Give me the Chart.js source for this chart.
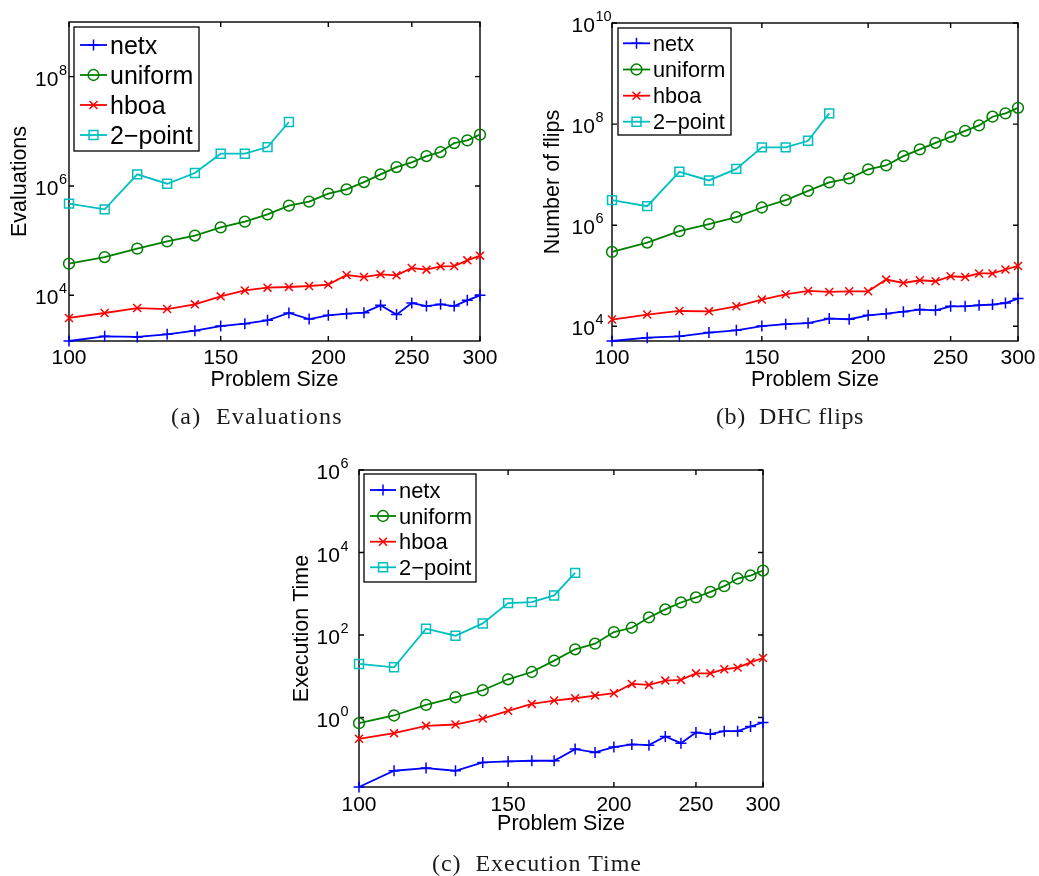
<!DOCTYPE html>
<html>
<head>
<meta charset="utf-8">
<script src="https://cdn.jsdelivr.net/npm/chart.js@4.4.1/dist/chart.umd.min.js"></script>
<style>
  html, body { margin: 0; padding: 0; background: #ffffff; }
  #figure { position: relative; width: 1039px; height: 876px; }
  #figure canvas { position: absolute; left: 0; top: 0; }
</style>
</head>
<body>
<div id="figure">
  <canvas id="evals" width="1039" height="876"></canvas>
  <canvas id="flips" width="1039" height="876"></canvas>
  <canvas id="time" width="1039" height="876"></canvas>
</div>
<script>
// ---- data -------------------------------------------------------------
const sizes = [100, 110, 120, 130, 140, 150, 160, 170, 180, 190, 200,
               210, 220, 230, 240, 250, 260, 270, 280, 290, 300];
const sizes2pt = [100, 110, 120, 130, 140, 150, 160, 170, 180];
const seriesNames = ['netx', 'uniform', 'hboa', '2\u2212point'];
const xTickValues = [100, 150, 200, 250, 300];

// (a) fitness evaluations
const evalNetx = [1460, 1780, 1730, 1930, 2260, 2740, 3030, 3490, 4750, 3680, 4310,
                  4620, 4820, 6560, 4440, 7230, 6370, 6840, 6370, 8090, 10000];
const evalUniform = [3.80e4, 5.01e4, 7.14e4, 9.70e4, 1.24e5, 1.75e5, 2.23e5, 3.03e5, 4.37e5, 5.17e5, 7.24e5,
                     8.68e5, 1.18e6, 1.63e6, 2.22e6, 2.71e6, 3.53e6, 4.18e6, 6.10e6, 6.84e6, 8.69e6];
const evalHboa = [3850, 4750, 5850, 5610, 6840, 9580, 12300, 13800, 14200, 14800, 15700,
                  23500, 21600, 24200, 23200, 31600, 29500, 33900, 34300, 43600, 53200];
const eval2pt = [4.75e5, 3.74e5, 1.63e6, 1.10e6, 1.73e6, 3.90e6, 3.90e6, 5.15e6, 1.48e7];
const evalYTicks = [1e4, 1e6, 1e8];

// (b) DHC flips
const flipNetx = [5120, 5970, 6340, 7500, 8330, 10100, 11000, 11600, 14200, 13800, 16500,
                  17800, 19500, 21400, 20700, 24900, 24900, 26100, 26900, 28900, 35400];
const flipUniform = [2.96e5, 4.54e5, 7.61e5, 1.05e6, 1.44e6, 2.24e6, 3.13e6, 4.78e6, 7.01e6, 8.41e6, 1.27e7,
                     1.52e7, 2.32e7, 3.16e7, 4.26e7, 5.61e7, 7.37e7, 9.42e7, 1.40e8, 1.63e8, 2.10e8];
const flipHboa = [13600, 17100, 20100, 19800, 24900, 33800, 43000, 50000, 47800, 49300, 49300,
                  84100, 72000, 81500, 77800, 97700, 94600, 111000, 111000, 133000, 156000];
const flip2pt = [3.13e6, 2.38e6, 1.14e7, 7.68e6, 1.30e7, 3.46e7, 3.46e7, 4.67e7, 1.63e8];
const flipYTicks = [1e4, 1e6, 1e8, 1e10];

// (c) execution time
const timeNetx = [0.0207, 0.0513, 0.0595, 0.0513, 0.0816, 0.0863, 0.0895, 0.0895, 0.1715, 0.1424, 0.1917,
                  0.2223, 0.2142, 0.347, 0.2395, 0.4337, 0.3954, 0.467, 0.467, 0.606, 0.757];
const timeUniform = [0.730, 1.12, 2.03, 3.10, 4.58, 8.45, 12.7, 23.9, 45.0, 61.6, 118,
                     150, 267, 417, 615, 813, 1114, 1528, 2342, 2768, 3656];
const timeHboa = [0.305, 0.418, 0.629, 0.677, 0.946, 1.45, 2.14, 2.58, 2.93, 3.40, 3.88,
                  6.52, 6.17, 7.85, 8.15, 11.8, 11.8, 14.8, 16.2, 21.8, 27.7];
const time2pt = [19.9, 16.5, 142, 96.2, 191, 593, 627, 909, 3212];
const timeYTicks = [1e0, 1e2, 1e4, 1e6];

// ---- styling ------------------------------------------------------------
const PAGE_W = 1039, PAGE_H = 876;
const SANS = '"Liberation Sans", Arial, Helvetica, sans-serif';
const SERIF = '"Liberation Serif", "Times New Roman", serif';
const lineLook = [
  { color: '#0000ff', marker: 'cross',    radius: 5.5 },
  { color: '#008000', marker: 'circle',   radius: 5.4 },
  { color: '#ff0000', marker: 'crossRot', radius: 5.6 },
  { color: '#00bfbf', marker: 'rect',     radius: 6.3 }
];

const panels = [
  {
    canvas: 'evals', yMax: 1e9, yTicks: evalYTicks,
    xs: [sizes, sizes, sizes, sizes2pt], ys: [evalNetx, evalUniform, evalHboa, eval2pt],
    area: { left: 69, top: 22, right: 480, bottom: 341 },
    yTitle: 'Evaluations', yTitleX: 26, yTickX: 35,
    xTickBase: 23, xTitleY: 386,
    caption: '(a)  Evaluations', captionX: 257, captionY: 424, captionW: 172,
    legend: { x: 74, y: 27, w: 125, h: 124, rows: [45, 75, 105, 135], lx0: 80, lx1: 107, tx: 110, font: 25, base: 8.5 }
  },
  {
    canvas: 'flips', yMax: 1e10, yTicks: flipYTicks,
    xs: [sizes, sizes, sizes, sizes2pt], ys: [flipNetx, flipUniform, flipHboa, flip2pt],
    area: { left: 612, top: 23, right: 1018, bottom: 341 },
    yTitle: 'Number of flips', yTitleX: 559, yTickX: 571.5,
    xTickBase: 23, xTitleY: 386,
    caption: '(b)  DHC flips', captionX: 790, captionY: 424, captionW: 148,
    legend: { x: 618, y: 28, w: 113, h: 107, rows: [43.3, 69.5, 95.7, 121.7], lx0: 623, lx1: 650, tx: 653, font: 21.7, base: 7.5 }
  },
  {
    canvas: 'time', yMax: 1e6, yTicks: timeYTicks,
    xs: [sizes, sizes, sizes, sizes2pt], ys: [timeNetx, timeUniform, timeHboa, time2pt],
    area: { left: 359, top: 470, right: 763, bottom: 787 },
    yTitle: 'Execution Time', yTitleX: 308, yTickX: 316.5,
    xTickBase: 24.4, xTitleY: 830,
    caption: '(c)  Execution Time', captionX: 537, captionY: 871, captionW: 210,
    legend: { x: 364, y: 474, w: 112, h: 108, rows: [490, 516, 541.7, 567.3], lx0: 370, lx1: 396, tx: 399, font: 21.9, base: 7.5 }
  }
];

// ---- drawing helpers --------------------------------------------------------
function strokeMarker(ctx, style, x, y, r) {
  ctx.beginPath();
  if (style === 'circle') {
    ctx.arc(x, y, r, 0, Math.PI * 2);
  } else if (style === 'rect') {
    const s = Math.SQRT1_2 * r;
    ctx.rect(x - s, y - s, 2 * s, 2 * s);
  } else if (style === 'cross') {
    ctx.moveTo(x - r, y); ctx.lineTo(x + r, y);
    ctx.moveTo(x, y - r); ctx.lineTo(x, y + r);
  } else if (style === 'crossRot') {
    const s = Math.SQRT1_2 * r;
    ctx.moveTo(x - s, y - s); ctx.lineTo(x + s, y + s);
    ctx.moveTo(x - s, y + s); ctx.lineTo(x + s, y - s);
  }
  ctx.stroke();
}

// Box, inward tick marks, tick labels, axis titles, legend and caption in the MATLAB style
const matlabAxes = {
  id: 'matlabAxes',
  beforeDatasetsDraw(chart, args, opts) {
    const p = opts.panel;
    const ctx = chart.ctx;
    const { left, top, right, bottom } = chart.chartArea;
    const xs = chart.scales.x, ys = chart.scales.y;
    const TL = 5;
    ctx.save();
    ctx.strokeStyle = '#000';
    ctx.lineWidth = 1.4;
    ctx.strokeRect(left, top, right - left, bottom - top);
    ctx.beginPath();
    xTickValues.forEach(v => {
      const px = xs.getPixelForValue(v);
      ctx.moveTo(px, bottom); ctx.lineTo(px, bottom - TL);
      ctx.moveTo(px, top); ctx.lineTo(px, top + TL);
    });
    p.yTicks.forEach(v => {
      const py = ys.getPixelForValue(v);
      ctx.moveTo(left, py); ctx.lineTo(left + TL, py);
      ctx.moveTo(right, py); ctx.lineTo(right - TL, py);
    });
    ctx.stroke();
    ctx.restore();
  },
  afterDraw(chart, args, opts) {
    const p = opts.panel;
    const ctx = chart.ctx;
    const { left, top, right, bottom } = chart.chartArea;
    const xs = chart.scales.x, ys = chart.scales.y;
    ctx.save();
    ctx.fillStyle = '#000';
    ctx.textBaseline = 'alphabetic';

    // x tick labels
    ctx.font = '21px ' + SANS;
    ctx.textAlign = 'center';
    xTickValues.forEach(v => {
      ctx.fillText(String(v), xs.getPixelForValue(v), bottom + p.xTickBase);
    });

    // y tick labels as powers of ten
    ctx.textAlign = 'left';
    p.yTicks.forEach(v => {
      const py = ys.getPixelForValue(v);
      const exp = String(Math.round(Math.log10(v)));
      ctx.font = '21px ' + SANS;
      ctx.fillText('10', p.yTickX, py + 9);
      const w = ctx.measureText('10').width;
      ctx.font = '14.5px ' + SANS;
      ctx.fillText(exp, p.yTickX + w + 0.6, py - 2);
    });

    // axis titles
    ctx.font = '21.5px ' + SANS;
    ctx.textAlign = 'center';
    ctx.fillText('Problem Size', (left + right) / 2, p.xTitleY);
    ctx.save();
    ctx.translate(p.yTitleX, (top + bottom) / 2);
    ctx.rotate(-Math.PI / 2);
    ctx.fillText(p.yTitle, 0, 0);
    ctx.restore();

    // legend
    const L = p.legend;
    ctx.fillStyle = '#fff';
    ctx.fillRect(L.x, L.y, L.w, L.h);
    ctx.strokeStyle = '#000';
    ctx.lineWidth = 1.3;
    ctx.strokeRect(L.x, L.y, L.w, L.h);
    chart.data.datasets.forEach((ds, i) => {
      const ry = L.rows[i];
      ctx.strokeStyle = ds.borderColor;
      ctx.lineWidth = ds.borderWidth;
      ctx.beginPath();
      ctx.moveTo(L.lx0, ry); ctx.lineTo(L.lx1, ry);
      ctx.stroke();
      ctx.lineWidth = ds.pointBorderWidth;
      strokeMarker(ctx, ds.pointStyle, (L.lx0 + L.lx1) / 2, ry, ds.pointRadius);
      ctx.fillStyle = '#000';
      ctx.font = L.font + 'px ' + SANS;
      ctx.textAlign = 'left';
      ctx.fillText(ds.label, L.tx, ry + L.base);
    });

    // sub-figure caption
    ctx.fillStyle = '#1c1c1c';
    ctx.font = '24px ' + SERIF;
    ctx.textAlign = 'left';
    if ('letterSpacing' in ctx) {
      ctx.letterSpacing = '0px';
      const natural = ctx.measureText(p.caption).width;
      const n = Array.from(p.caption).length;
      ctx.letterSpacing = Math.max(0, (p.captionW - natural) / n).toFixed(2) + 'px';
    }
    ctx.fillText(p.caption, p.captionX - p.captionW / 2, p.captionY);
    ctx.restore();
  }
};

panels.forEach(p => {
  const datasets = seriesNames.map((name, i) => ({
    label: name,
    data: p.xs[i].map((x, k) => ({ x: x, y: p.ys[i][k] })),
    borderColor: lineLook[i].color,
    backgroundColor: 'rgba(0,0,0,0)',
    borderWidth: 1.8,
    pointStyle: lineLook[i].marker,
    pointRadius: lineLook[i].radius,
    pointBorderWidth: 1.5,
    pointBorderColor: lineLook[i].color,
    pointBackgroundColor: 'rgba(0,0,0,0)',
    tension: 0,
    clip: false
  }));
  const allValues = p.ys.flat();
  new Chart(document.getElementById(p.canvas), {
    type: 'line',
    data: { datasets },
    options: {
      responsive: false,
      animation: false,
      devicePixelRatio: 1,
      events: [],
      layout: {
        padding: {
          left: p.area.left, top: p.area.top,
          right: PAGE_W - p.area.right, bottom: PAGE_H - p.area.bottom
        }
      },
      plugins: {
        legend: { display: false },
        title: { display: false },
        tooltip: { enabled: false },
        matlabAxes: { panel: p }
      },
      scales: {
        x: { type: 'logarithmic', min: 100, max: 300, bounds: 'data', display: false },
        y: { type: 'logarithmic', min: Math.min(...allValues), max: p.yMax, bounds: 'data', display: false }
      }
    },
    plugins: [matlabAxes]
  });
});
</script>
</body>
</html>
